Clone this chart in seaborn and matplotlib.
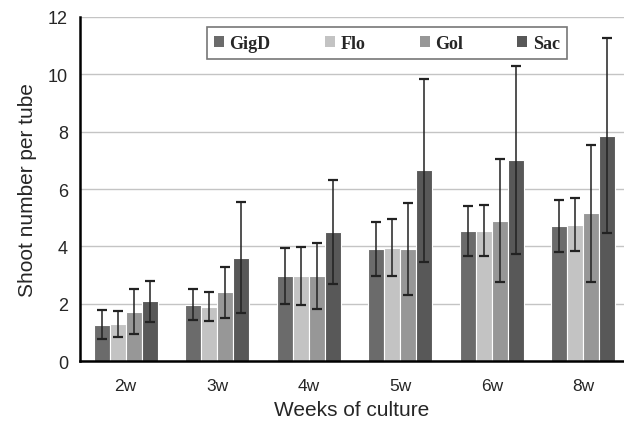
import pandas as pd
import numpy as np
import matplotlib
matplotlib.use("Agg")
import matplotlib.pyplot as plt
import seaborn as sns

# ==============================
# Data
# ==============================
weeks = ["2w", "3w", "4w", "5w", "6w", "8w"]
lines = ["GigD", "Flo", "Gol", "Sac"]

gigd = [1.27, 1.97, 2.97, 3.90, 4.55, 4.70]
flo = [1.30, 1.90, 2.97, 3.95, 4.55, 4.75]
gol = [1.72, 2.40, 2.97, 3.90, 4.90, 5.15]
sac = [2.08, 3.60, 4.50, 6.65, 7.00, 7.85]

gigd_err = [0.50, 0.55, 0.97, 0.95, 0.87, 0.90]
flo_err = [0.45, 0.50, 1.00, 1.00, 0.90, 0.92]
gol_err = [0.78, 0.88, 1.15, 1.60, 2.15, 2.40]
sac_err = [0.73, 1.93, 1.80, 3.20, 3.28, 3.40]

colors = ["#6b6b6b", "#c3c3c3", "#979797", "#585858"]

means = {"GigD": gigd, "Flo": flo, "Gol": gol, "Sac": sac}
errs = {"GigD": gigd_err, "Flo": flo_err, "Gol": gol_err, "Sac": sac_err}

rows = []
for ln in lines:
    for w, v in zip(weeks, means[ln]):
        rows.append({"week": w, "line": ln, "shoots": v})
df = pd.DataFrame(rows)

# ==============================
# Plot
# ==============================
sns.set_style("white")
fig = plt.figure(figsize=(6.24, 4.27), dpi=100)
ax = fig.add_axes([0.128, 0.152, 0.872, 0.806])

sns.barplot(data=df, x="week", y="shoots", hue="line", order=weeks,
            hue_order=lines, palette=colors, width=0.7, errorbar=None,
            edgecolor="white", linewidth=0.8, ax=ax, zorder=2)

# error bars on each bar
for ln, cont in zip(lines, ax.containers):
    xs = [p.get_x() + p.get_width() / 2 for p in cont.patches]
    ax.errorbar(xs, means[ln], yerr=errs[ln], fmt="none", ecolor="#222222",
                elinewidth=1.1, capsize=3.5, capthick=1.6, zorder=3)

ax.set_ylim(0, 12)
ax.set_yticks(range(0, 13, 2))
ax.set_xlim(-0.5, 5.445)
ax.yaxis.grid(True, color="#c4c4c4", linewidth=1.0, zorder=0)
ax.set_axisbelow(True)

ax.set_xticks(range(len(weeks)))
ax.set_xticklabels(weeks, family="Liberation Sans", fontsize=12.5)
ax.set_xticks(np.arange(0.5, 5.0, 1.0), minor=True)
ax.tick_params(axis="x", which="major", length=0, pad=12)
ax.tick_params(axis="x", which="minor", direction="out", length=5, width=1.6, color="black")
ax.tick_params(axis="y", direction="out", length=5, width=1.6, color="black")
for t in ax.get_yticklabels():
    t.set_family("Liberation Sans")
    t.set_fontsize(13)

for s in ["top", "right"]:
    ax.spines[s].set_visible(False)
for s in ["left", "bottom"]:
    ax.spines[s].set_color("black")
    ax.spines[s].set_linewidth(1.8)

ax.set_xlabel("Weeks of culture", fontsize=15, family="Liberation Sans", labelpad=5)
ax.set_ylabel("Shoot number per tube", fontsize=15, family="Liberation Sans", labelpad=8)

leg = ax.legend(loc="lower left", bbox_to_anchor=(0.233, 0.878, 0.662, 0.096),
                mode="expand", ncol=4, frameon=True, fancybox=False,
                handlelength=0.55, handleheight=0.55, handletextpad=0.3,
                borderaxespad=0, prop={"family": "Liberation Serif", "weight": "bold", "size": 13})
leg.get_frame().set_edgecolor("#555555")
leg.get_frame().set_linewidth(1.2)
for h in leg.legend_handles:
    h.set_edgecolor("none")

fig.savefig("out.png", dpi=100)
